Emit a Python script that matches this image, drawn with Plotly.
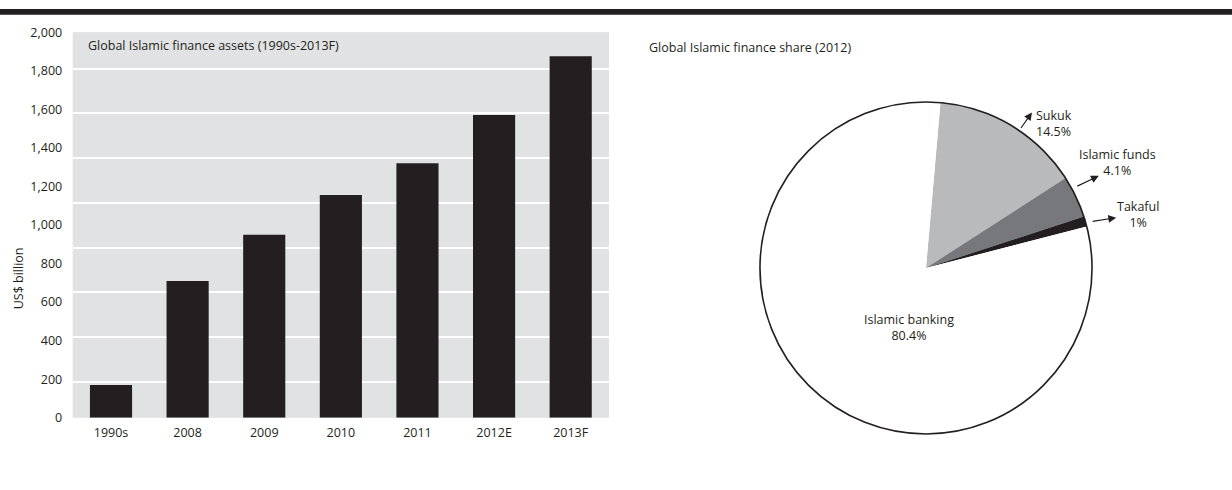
import math
import plotly.graph_objects as go

# ---- data -------------------------------------------------------------
years = ["1990s", "2008", "2009", "2010", "2011", "2012E", "2013F"]
assets_bn = [170, 710, 950, 1155, 1320, 1570, 1875]

y_ticks = [0, 200, 400, 600, 800, 1000, 1200, 1400, 1600, 1800, 2000]

share_labels = ["Sukuk", "Islamic funds", "Takaful", "Islamic banking"]
share_pct = [14.5, 4.1, 1.0, 80.4]

# ---- styling ----------------------------------------------------------
W, H = 1232, 490
INK = "#231f20"
PANEL = "#e1e2e3"
FONT = "Open Sans"
FS = 12.5
slice_colors = ["#b9babc", "#77787b", INK, "#ffffff"]

def px(x):
    return x / W

def py(y):
    return 1 - y / H

# bar panel placement (pixels)
BAR_L, BAR_R, BAR_T, BAR_B = 72.7, 609, 24, 423.5
# pie placement (pixels)
PIE_CX, PIE_CY, PIE_R = 926, 268.3, 172
PIE_START = 5  # degrees clockwise from 12 o'clock

fig = go.Figure()

fig.add_trace(go.Bar(
    x=years, y=assets_bn,
    marker=dict(color=INK, line=dict(width=0)),
    hoverinfo="x+y",
    showlegend=False,
))

pie_domain = dict(x=[px(PIE_CX - PIE_R), px(PIE_CX + PIE_R)],
                  y=[py(PIE_CY + PIE_R), py(PIE_CY - PIE_R)])

# Slices of the pie, no edge lines between them
fig.add_trace(go.Pie(
    labels=share_labels, values=share_pct,
    sort=False, direction="clockwise", rotation=PIE_START,
    marker=dict(colors=slice_colors, line=dict(width=0)),
    textinfo="none", hoverinfo="label+percent",
    domain=pie_domain, showlegend=False,
))
# Outer rim of the pie as a single, unfilled slice
fig.add_trace(go.Pie(
    labels=["rim"], values=[1],
    marker=dict(colors=["rgba(0,0,0,0)"], line=dict(color=INK, width=1.6)),
    textinfo="none", hoverinfo="skip",
    domain=pie_domain, showlegend=False,
))

# A second, invisible y axis supplies the white panel rules
fig.add_trace(go.Scatter(x=[years[0]], y=[0], yaxis="y2", mode="markers",
                         marker=dict(opacity=0), hoverinfo="skip",
                         showlegend=False))

annotations = []

def text_ann(x, y, text, xanchor="center", align="center", yanchor="middle"):
    annotations.append(dict(
        x=px(x), y=py(y), xref="paper", yref="paper", text=text,
        showarrow=False, xanchor=xanchor, yanchor=yanchor, align=align,
        font=dict(family=FONT, size=FS, color=INK)))

def pct_text(v):
    return f"{v:g}%"

# Panel titles and the y-axis title
text_ann(86, 38, "Global Islamic finance assets (1990s-2013F)", xanchor="left")
text_ann(647, 40, "Global Islamic finance share (2012)", xanchor="left")
annotations.append(dict(
    x=px(18), y=py(279), xref="paper", yref="paper", text="US$ billion",
    showarrow=False, textangle=-90, xanchor="center", yanchor="middle",
    font=dict(family=FONT, size=FS, color=INK)))

# Slice mid-angles (clockwise from 12 o'clock)
mids = []
acc = PIE_START
total = sum(share_pct)
for v in share_pct:
    span = 360 * v / total
    mids.append(acc + span / 2)
    acc += span

def rim_point(angle_deg, r):
    a = math.radians(angle_deg)
    return PIE_CX + r * math.sin(a), PIE_CY - r * math.cos(a)

# Callouts for the smaller slices: arrow from the rim, label beyond it
callouts = [
    # (index, tail angle, head offset dx, dy, label x, label top y, anchor)
    (0, mids[0] + 2, 12, -17, 1034, 99, "left"),
    (1, mids[1] - 4, 23, -11, 1117, 140, "center"),
    (2, mids[2], 25, -4, 1138, 194, "center"),
]
for idx, ang, hdx, hdy, lx, ly, anchor in callouts:
    tx, ty = rim_point(ang, PIE_R)
    hx, hy = tx + hdx, ty + hdy
    annotations.append(dict(
        x=px(hx), y=py(hy), xref="paper", yref="paper", text="",
        showarrow=True, ax=tx - hx, ay=ty - hy, axref="pixel", ayref="pixel",
        arrowhead=2, arrowsize=1.3, arrowwidth=1.2, arrowcolor=INK,
        standoff=0, startstandoff=0))
    text_ann(lx, ly, f"{share_labels[idx]}<br>{pct_text(share_pct[idx])}",
             xanchor=anchor, align=anchor, yanchor="top")

# Label inside the largest slice
text_ann(909, 311, f"{share_labels[3]}<br>{pct_text(share_pct[3])}",
         yanchor="top")

fig.update_layout(
    width=W, height=H,
    margin=dict(l=0, r=0, t=0, b=0),
    paper_bgcolor="white",
    plot_bgcolor=PANEL,
    bargap=0.45,
    font=dict(family=FONT, size=FS, color=INK),
    xaxis=dict(
        domain=[px(BAR_L), px(BAR_R)],
        showgrid=False, zeroline=False, showline=False,
        ticks="outside", ticklen=3, tickcolor="rgba(0,0,0,0)",
        tickfont=dict(family=FONT, size=FS, color=INK),
        fixedrange=True,
    ),
    yaxis=dict(
        domain=[py(BAR_B), py(BAR_T)],
        range=[0, 2000], tickvals=y_ticks, tickformat=",",
        showgrid=False, zeroline=False, showline=False,
        ticks="outside", ticklen=7, tickcolor="rgba(0,0,0,0)",
        tickfont=dict(family=FONT, size=FS, color=INK),
        fixedrange=True,
    ),
    yaxis2=dict(
        overlaying="y", side="right",
        range=[-0.81, 7.82], tick0=0, dtick=1,
        showgrid=True, gridcolor="white", gridwidth=1.6,
        showticklabels=False, zeroline=False, showline=False, ticks="",
        fixedrange=True,
    ),
    shapes=[dict(type="rect", xref="paper", yref="paper",
                 x0=0, x1=1, y0=py(6), y1=1,
                 fillcolor=INK, line=dict(width=0))],
    annotations=annotations,
)

fig.write_html("out.html")
